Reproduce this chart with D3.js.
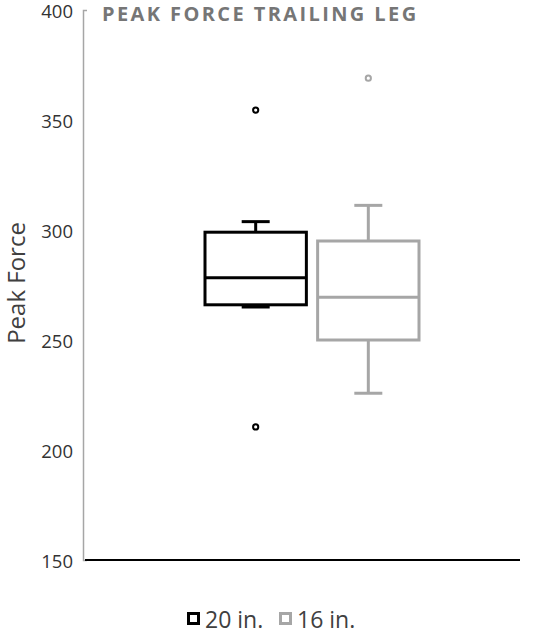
<!DOCTYPE html>
<html><head><meta charset="utf-8">
<script src="https://cdn.jsdelivr.net/npm/d3@7"></script>
<style>body{margin:0;background:#fff}svg{display:block}</style>
</head><body>
<svg id="c" width="546" height="638"></svg>
<script>
const series = ["20 in.", "16 in."];
const colors = ["#000000", "#a6a6a6"];
const q1 = [266, 250];
const median = [278.3, 269.4];
const q3 = [299, 295];
const whiskerLow = [265, 225.8];
const whiskerHigh = [303.8, 311.2];
const outliers = [[354.5, 210.5], [369]];
const yTicks = [150, 200, 250, 300, 350, 400];
const title = "PEAK FORCE TRAILING LEG";
const yLabel = "Peak Force";

const svg = d3.select("#c");
const y = d3.scaleLinear().domain([150, 400]).range([560, 10]);
const x = d3.scaleBand().domain(series).range([205, 419]).paddingInner(0.1);

// y axis
const ya = svg.append("g").attr("transform", "translate(83,0)")
  .call(d3.axisLeft(y).tickValues(yTicks).tickSizeInner(0).tickSizeOuter(-4).tickPadding(10));
ya.select(".domain").attr("stroke", "#a6a6a6").attr("stroke-width", 1.5);
ya.selectAll("text").attr("font-family", "'Open Sans', sans-serif").attr("font-size", 18.5).attr("fill", "#333").attr("dy", "0.4em");

// x axis baseline
svg.append("line").attr("x1", 85).attr("x2", 520).attr("y1", y(150)).attr("y2", y(150))
  .attr("stroke", "#000").attr("stroke-width", 2);

// boxes
series.forEach((s, i) => {
  const g = svg.append("g").attr("stroke", colors[i]).attr("stroke-width", 3).attr("fill", "none");
  const x0 = x(s), w = x.bandwidth(), cx = x0 + w / 2, cw = 14;
  g.append("line").attr("x1", cx).attr("x2", cx).attr("y1", y(q3[i])).attr("y2", y(whiskerHigh[i]));
  g.append("line").attr("x1", cx).attr("x2", cx).attr("y1", y(q1[i])).attr("y2", y(whiskerLow[i]));
  g.append("line").attr("x1", cx - cw).attr("x2", cx + cw).attr("y1", y(whiskerHigh[i])).attr("y2", y(whiskerHigh[i]));
  g.append("line").attr("x1", cx - cw).attr("x2", cx + cw).attr("y1", y(whiskerLow[i])).attr("y2", y(whiskerLow[i]));
  g.append("rect").attr("x", x0).attr("width", w).attr("y", y(q3[i])).attr("height", y(q1[i]) - y(q3[i])).attr("fill", "#fff");
  g.append("line").attr("x1", x0).attr("x2", x0 + w).attr("y1", y(median[i])).attr("y2", y(median[i]));
  outliers[i].forEach(v => {
    svg.append("circle").attr("cx", cx).attr("cy", y(v)).attr("r", 2.6)
      .attr("fill", "none").attr("stroke", colors[i]).attr("stroke-width", 2);
  });
});

// title
svg.append("text").attr("x", 102).attr("y", 20.5).text(title)
  .attr("font-family", "'Open Sans', sans-serif").attr("font-weight", "bold")
  .attr("font-size", 20).attr("letter-spacing", 2.4).attr("fill", "#767676");

// y label
svg.append("text").attr("transform", "translate(25,283) rotate(-90)").attr("text-anchor", "middle")
  .text(yLabel).attr("font-family", "'Open Sans', sans-serif").attr("font-size", 24).attr("fill", "#404040");

// legend
const legX = [187, 279];
series.forEach((s, i) => {
  svg.append("rect").attr("x", legX[i] + 1.5).attr("y", 613.5).attr("width", 10).attr("height", 10)
    .attr("fill", "none").attr("stroke", colors[i]).attr("stroke-width", 3);
  svg.append("text").attr("x", legX[i] + 18).attr("y", 628).text(s)
    .attr("font-family", "'Open Sans', sans-serif").attr("font-size", 23).attr("fill", "#404040");
});
</script>
</body></html>
